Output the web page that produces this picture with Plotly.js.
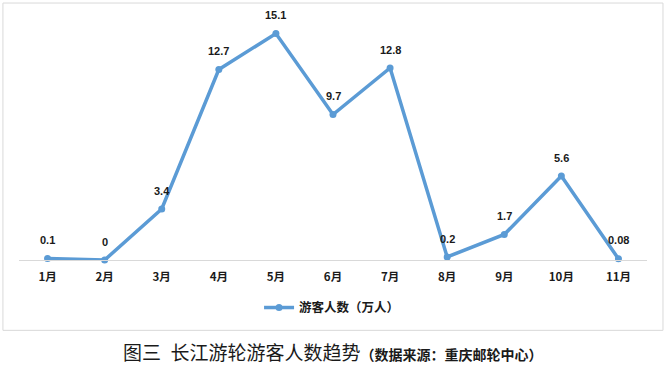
<!DOCTYPE html>
<html><head><meta charset="utf-8">
<script src="https://cdn.plot.ly/plotly-3.0.1.min.js"></script>
<style>body{margin:0;background:#fff}#c{width:672px;height:369px}</style>
</head><body><div id="c"></div>
<script>
const months = ['1月','2月','3月','4月','5月','6月','7月','8月','9月','10月','11月'];
const visitors = [0.1, 0, 3.4, 12.7, 15.1, 9.7, 12.8, 0.2, 1.7, 5.6, 0.08];
const labels = ['0.1','0','3.4','12.7','15.1','9.7','12.8','0.2','1.7','5.6','0.08'];
const seriesName = '游客人数（万人）';
const caption = '图三\u2002长江游轮游客人数趋势';
const source = '（数据来源：重庆邮轮中心）';

const W = 672, H = 369;
const m = {l: 18.6, r: 24.5, t: 19.5, b: 109};
const pw = W - m.l - m.r, ph = H - m.t - m.b;
const px = x => (x - m.l) / pw;
const py = y => (H - m.b - y) / ph;

const cjk = '"Noto Sans CJK SC", "Liberation Sans", sans-serif';

const annotations = months.map((mo, i) => ({
  x: mo, y: visitors[i], xref: 'x', yref: 'y', text: '<b>' + labels[i] + '</b>',
  showarrow: false, yanchor: 'middle', yshift: 18.5,
  font: {family: '"Liberation Sans", Arial, sans-serif', size: 11, color: '#1a1a1a'}
}));
annotations.push({
  xref: 'paper', yref: 'paper', x: px(121), y: py(352), xanchor: 'left', yanchor: 'middle',
  showarrow: false,
  text: caption + '<span style="font-size:14px"><b>' + source + '</b></span>',
  font: {family: cjk, size: 19, color: '#1a1a1a'}
});

const layout = {
  width: W, height: H, margin: m,
  paper_bgcolor: '#fff', plot_bgcolor: '#fff',
  showlegend: true,
  legend: {orientation: 'h', x: px(259), y: py(308), xanchor: 'left', yanchor: 'middle',
    font: {family: cjk, size: 12.5, color: '#1a1a1a'}, bgcolor: 'rgba(0,0,0,0)', itemwidth: 30},
  xaxis: {type: 'category', range: [-0.5, 10.5], showgrid: false, zeroline: false,
    showline: true, linecolor: '#D9D9D9', linewidth: 1, ticks: '', ticklabelstandoff: 6,
    tickfont: {family: cjk, size: 11.5, color: '#1a1a1a', weight: 'bold'}, fixedrange: true},
  yaxis: {range: [0, 16], showgrid: false, zeroline: false, showline: false,
    showticklabels: false, ticks: '', fixedrange: true},
  shapes: [{type: 'rect', xref: 'paper', yref: 'paper', x0: px(2.5), x1: px(663.5), y0: py(2.5), y1: py(330.5),
    line: {color: '#D9D9D9', width: 1}, fillcolor: 'rgba(0,0,0,0)', layer: 'below'}],
  annotations: annotations
};

const trace = {
  type: 'scatter', mode: 'lines+markers', x: months, y: visitors, name: '<b>' + seriesName + '</b>',
  line: {color: '#5B9BD5', width: 3.5}, marker: {color: '#5B9BD5', size: 7},
  cliponaxis: false, hoverinfo: 'skip'
};

Plotly.newPlot('c', [trace], layout, {displayModeBar: false, staticPlot: true});
</script></body></html>
